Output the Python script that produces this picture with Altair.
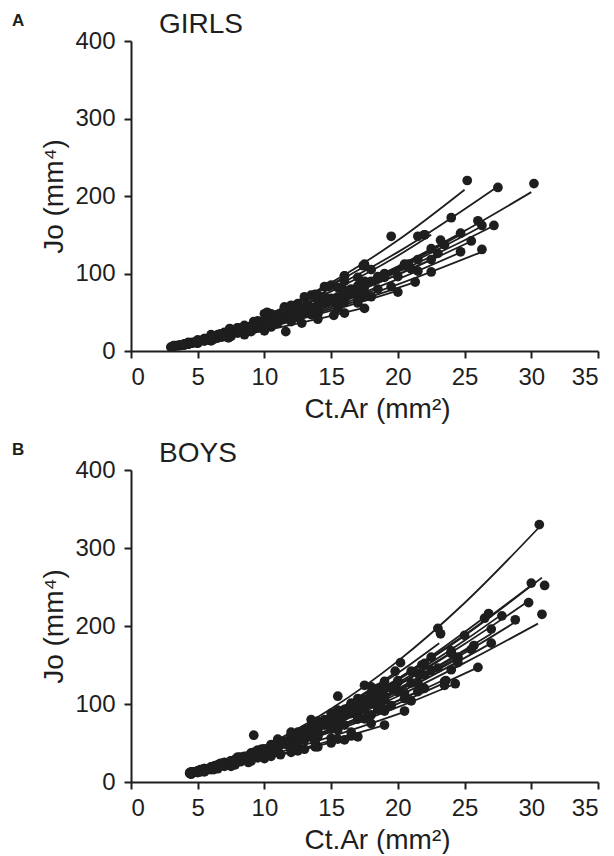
import altair as alt
import pandas as pd

X_TICKS = [0, 5, 10, 15, 20, 25, 30, 35]
Y_TICKS = [0, 100, 200, 300, 400]

# ---------------- GIRLS (panel A) ----------------
GIRL_CURVE_X = [
    [3.0, 8, 14, 20, 25.0],
    [4, 10, 15, 20, 27.3],
    [5, 10, 15, 20, 25, 30],
    [4, 10, 15, 20, 27],
    [4, 10, 15, 20, 26.2],
    [3.5, 10, 15, 20, 25.3],
    [4, 10, 15, 20, 26.3],
    [4, 10, 15, 20, 24.8],
    [3, 10, 15, 20, 24.7],
    [3.5, 10, 15, 20, 22.5],
    [4, 10, 15, 20, 23.5],
    [3, 10, 15, 20, 22.5],
    [4, 10, 15, 21.3],
    [3.5, 10, 15, 20],
    [3, 10, 15, 17.4],
    [4, 10, 14, 17.3],
    [4, 10, 15, 20.8],
    [3.2, 10, 16],
    [4, 10, 15, 18.5],
    [3.5, 10, 15, 19],
    [3, 8, 14.5],
    [4, 8, 12],
]
GIRL_CURVE_Y = [
    [6.0, 30.9, 78.7, 142.8, 208],
    [9.7, 42, 80.7, 127.6, 210],
    [12.8, 37.3, 69.9, 109.4, 155, 205],
    [9.1, 36, 66.2, 102, 160],
    [8.7, 36, 67.3, 105.4, 160],
    [7.2, 34.8, 63.9, 98.4, 140],
    [8.3, 31.5, 56.5, 86, 128],
    [8.3, 32.8, 60.2, 92.7, 128],
    [5.1, 35.3, 67.7, 107, 150],
    [7, 39.3, 76.9, 123, 150],
    [8.2, 35.7, 68.4, 108, 140],
    [5.7, 35, 64.2, 99, 118],
    [8.6, 30.9, 54.4, 89],
    [6.8, 29.5, 52.1, 78],
    [5.9, 43.3, 84.8, 108],
    [7.6, 26.2, 41.3, 55],
    [8.5, 35.4, 66.1, 110],
    [6.7, 43.8, 95],
    [8.7, 32.8, 58.8, 80],
    [7.2, 36.9, 69, 100],
    [5.6, 27.6, 70],
    [9, 25, 45],
]
GIRL_PT_X = [
    [3.2, 5.0, 7.4, 10.0, 13.0, 16.0, 19.5, 25.2],
    [4.2, 6.5, 9.5, 14.0, 18.0, 22.0, 24.0, 27.5],
    [5.2, 7.5, 10.5, 14.5, 17.5, 21.5, 26.0, 30.2],
    [4.0, 6.0, 8.5, 11.5, 15.5, 19.0, 23.0, 27.2],
    [3.8, 5.5, 8.0, 12.0, 16.5, 20.5, 23.5, 26.3],
    [3.5, 5.0, 7.0, 9.5, 13.5, 17.0, 21.0, 25.5],
    [4.5, 6.5, 9.0, 12.5, 16.0, 19.5, 22.5, 26.3],
    [4.3, 6.0, 8.0, 11.0, 14.0, 17.5, 21.5, 24.7],
    [3.0, 4.5, 6.5, 9.0, 12.5, 16.5, 20.5, 24.7],
    [3.5, 5.5, 8.0, 11.0, 14.0, 17.0, 21.5, 22.0],
    [4.0, 6.0, 8.5, 11.5, 15.0, 18.5, 22.5, 23.2],
    [3.2, 5.0, 7.0, 10.0, 13.0, 16.5, 20.0, 22.5],
    [4.5, 6.5, 9.0, 12.0, 15.5, 18.0, 21.3],
    [3.5, 5.0, 7.5, 10.5, 14.0, 17.0, 20.0],
    [3.3, 5.0, 7.0, 10.2, 12.5, 15.0, 17.4],
    [4.0, 6.0, 8.5, 11.6, 14.0, 16.0, 17.5],
    [4.8, 7.0, 9.5, 12.5, 16.0, 18.5, 20.8],
    [3.2, 5.5, 8.0, 10.5, 13.5, 16.0],
    [4.3, 6.8, 9.5, 12.5, 15.5, 18.5],
    [3.7, 6.0, 8.5, 11.5, 14.5, 17.5, 19.0],
    [3.0, 4.8, 7.0, 9.5, 12.0, 14.5],
    [4.0, 5.8, 8.0, 10.0, 12.0],
]
GIRL_PT_Y = [
    [6, 14, 29, 48, 70, 97, 148, 220],
    [10, 21, 39, 72, 105, 150, 172, 211],
    [13, 23, 42, 66, 90, 118, 168, 216],
    [9, 17, 28, 44, 70, 95, 126, 162],
    [8, 14, 26, 48, 80, 110, 137, 162],
    [7, 12, 20, 32, 55, 77, 106, 142],
    [10, 17, 27, 43, 63, 83, 102, 131],
    [9, 15, 23, 38, 54, 76, 103, 128],
    [5, 10, 18, 30, 50, 79, 112, 152],
    [7, 15, 28, 47, 69, 95, 148, 150],
    [8, 16, 28, 45, 68, 96, 132, 143],
    [6, 12, 20, 36, 52, 75, 96, 118],
    [10, 17, 27, 40, 57, 70, 89],
    [7, 11, 19, 31, 47, 62, 76],
    [7, 14, 24, 50, 61, 85, 110],
    [8, 13, 21, 25, 41, 49, 55],
    [11, 20, 33, 50, 74, 93, 112],
    [7, 16, 30, 48, 72, 97],
    [9, 18, 30, 45, 62, 80],
    [8, 16, 29, 46, 65, 88, 100],
    [5, 11, 22, 35, 51, 70],
    [9, 16, 25, 35, 45],
]
# further visits of the same girls (mid-range of the cloud)
GIRL_PT2_X = [
    [6.0, 11.5, 14.5, 17.5],
    [5.5, 8.0, 12.0, 16.0],
    [6.2, 9.0, 12.5, 16.0],
    [5.0, 7.0, 10.0, 13.5, 17.5],
    [4.6, 7.0, 10.0, 14.0, 18.0],
    [4.2, 6.0, 8.5, 11.0, 15.5],
    [5.5, 7.5, 11.0, 14.0, 17.5],
    [5.0, 7.0, 9.5, 12.5, 16.0],
    [3.7, 5.5, 8.0, 11.0, 14.5],
    [4.5, 6.8, 9.5, 12.5, 15.5],
    [5.0, 7.0, 10.0, 13.0, 17.0],
    [4.0, 6.0, 8.5, 11.5, 15.0],
    [5.5, 7.5, 10.5, 13.5, 17.0],
    [4.3, 6.2, 9.0, 12.0, 15.5],
    [4.0, 6.0, 8.5, 11.5, 13.8],
    [5.0, 7.3, 10.0, 12.8, 15.2],
    [5.8, 8.2, 11.0, 14.0, 17.2],
    [4.3, 6.7, 9.2, 12.0, 14.8],
    [5.5, 8.0, 11.0, 14.0, 17.0],
    [4.8, 7.2, 10.0, 13.0, 16.0],
    [3.9, 5.9, 8.2, 10.8, 13.2],
    [4.9, 6.9, 9.0, 11.0],
]
GIRL_PT2_Y = [
    [21, 57, 83, 112],
    [16, 30, 55, 90],
    [18, 32, 52, 78],
    [13, 21, 36, 56, 83],
    [11, 21, 36, 60, 90],
    [9, 16, 27, 40, 68],
    [13, 21, 36, 52, 70],
    [12, 19, 30, 46, 68],
    [7, 14, 25, 41, 63],
    [10, 21, 36, 57, 82],
    [11, 21, 36, 53, 84],
    [8, 16, 27, 43, 64],
    [13, 21, 33, 47, 65],
    [9, 15, 25, 38, 55],
    [9, 19, 33, 55, 73],
    [10, 17, 26, 36, 46],
    [15, 26, 41, 59, 84],
    [11, 22, 38, 59, 83],
    [14, 24, 38, 53, 71],
    [11, 22, 37, 55, 76],
    [8, 16, 28, 43, 60],
    [12, 20, 30, 40],
]

# ---------------- BOYS (panel B) ----------------
BOY_CURVE_X = [
    [5, 10, 15, 20, 25, 30.5],
    [5, 10, 15, 20, 25, 30.8],
    [5, 10, 15, 20, 25, 30.2],
    [5, 10, 15, 20, 25, 29.8],
    [5, 10, 15, 20, 25, 30.5],
    [5, 10, 15, 20, 25, 27.8],
    [4.5, 10, 15, 20, 26.8],
    [5, 10, 15, 20, 25, 28.8],
    [5, 10, 15, 20, 27],
    [5, 10, 15, 20, 27],
    [5, 10, 15, 20, 23.1],
    [5, 10, 15, 20, 25.7],
    [5, 10, 15, 20, 24.5],
    [5, 10, 15, 20, 26],
    [5, 10, 15, 20, 24.3],
    [5, 10, 15, 20, 23.6],
    [5, 10, 15, 20.5],
    [4.5, 10, 15, 19],
    [5, 10, 14, 17],
    [5, 10, 15, 19.8],
    [5, 10, 15, 21.8],
    [4.5, 10, 15, 18.5],
    [4.5, 10, 16],
    [5, 10, 15, 22],
    [4.5, 9, 14],
    [5, 10, 15, 20, 24],
]
BOY_CURVE_Y = [
    [13.7, 46.2, 94, 155, 229.5, 325],
    [14.3, 43.3, 83, 131.3, 187.6, 262],
    [14.4, 43.5, 83.4, 132, 188.5, 255],
    [14.6, 42.7, 79.9, 125, 177, 232],
    [14.7, 40.3, 72.4, 110, 152.7, 203],
    [13.8, 41.9, 80.3, 127, 181.4, 215],
    [11.3, 42.3, 82.7, 132.3, 215],
    [13.6, 39.8, 74.5, 116.7, 165.3, 205],
    [13.9, 40.8, 76.2, 119.4, 190],
    [14.2, 40.1, 73.7, 113.5, 178],
    [14.3, 44.7, 87.4, 139.8, 178],
    [13.9, 40.5, 75.8, 118.8, 175],
    [14.5, 41.1, 75.5, 116.3, 158],
    [13.4, 36.8, 66, 100.5, 147],
    [13.8, 36.4, 64.2, 95.9, 126],
    [13.9, 38, 68.2, 103.8, 132],
    [12.5, 32.9, 58.2, 90],
    [10.4, 30.7, 53.2, 73],
    [12.2, 30.1, 46.2, 60],
    [13.5, 43.8, 87.4, 140],
    [13.3, 41.5, 81.1, 150],
    [11.7, 43.5, 85, 120],
    [12.7, 42, 85],
    [13, 36.8, 67.6, 120],
    [11.5, 34, 60],
    [13.4, 40.7, 78, 123.5, 165],
]
BOY_PT_X = [
    [4.8, 7.0, 9.2, 12.0, 15.5, 20.2, 30.6],
    [5.0, 7.5, 10.5, 14.0, 17.5, 21.0, 25.0, 30.0],
    [5.5, 8.0, 11.0, 14.5, 18.0, 22.0, 26.5, 31.0],
    [4.6, 6.5, 9.0, 12.5, 16.0, 19.5, 24.0, 29.8],
    [5.2, 7.8, 10.5, 13.5, 17.0, 20.5, 24.0, 30.8],
    [4.5, 6.5, 9.5, 13.0, 16.5, 20.0, 24.0, 27.8],
    [4.5, 6.0, 8.5, 11.5, 15.0, 18.5, 22.5, 26.8],
    [5.5, 8.0, 11.5, 15.0, 18.5, 22.0, 25.5, 28.8],
    [4.8, 7.0, 10.0, 13.5, 17.0, 21.0, 24.5, 27.0],
    [5.0, 7.5, 10.5, 14.0, 17.5, 21.5, 24.5, 27.0],
    [5.0, 7.0, 9.5, 12.5, 15.5, 19.0, 23.0, 23.2],
    [4.4, 6.0, 8.5, 12.0, 15.5, 19.0, 22.5, 25.7],
    [5.3, 7.5, 10.0, 13.0, 16.5, 20.0, 23.0, 24.5],
    [4.7, 7.0, 9.5, 12.5, 16.0, 19.5, 23.5, 26.0],
    [5.0, 7.5, 10.5, 14.0, 17.5, 21.0, 23.5, 24.3],
    [4.5, 6.5, 9.0, 12.0, 15.0, 18.5, 21.5, 23.6],
    [5.0, 7.0, 9.5, 12.5, 15.0, 18.0, 20.5],
    [4.5, 6.5, 9.0, 12.0, 14.0, 16.5, 19.0],
    [5.2, 7.5, 10.0, 12.5, 15.0, 17.0],
    [5.5, 8.0, 10.5, 13.5, 16.5, 19.8],
    [4.6, 6.5, 9.0, 12.0, 15.5, 18.5, 21.8],
    [4.5, 6.5, 8.5, 11.0, 14.0, 16.5, 18.5],
    [4.5, 6.0, 8.0, 10.0, 12.5, 14.5, 16.0],
    [5.0, 7.5, 10.0, 13.5, 17.0, 20.5, 22.0],
    [4.4, 6.0, 8.0, 10.0, 12.0, 14.0],
    [5.5, 8.0, 11.0, 14.5, 18.0, 21.5, 24.0],
]
BOY_PT_Y = [
    [13, 25, 60, 64, 110, 153, 330],
    [14, 27, 47, 74, 105, 142, 188, 255],
    [17, 30, 51, 80, 111, 152, 210, 252],
    [13, 22, 37, 59, 88, 120, 166, 230],
    [15, 28, 43, 61, 87, 114, 144, 215],
    [12, 21, 39, 64, 92, 128, 168, 213],
    [11, 18, 32, 52, 82, 116, 160, 216],
    [16, 28, 49, 74, 104, 137, 170, 208],
    [13, 23, 41, 65, 92, 127, 160, 196],
    [14, 26, 44, 66, 93, 127, 153, 178],
    [14, 25, 41, 64, 92, 129, 197, 190],
    [12, 18, 32, 54, 80, 110, 143, 175],
    [16, 27, 41, 62, 88, 116, 146, 158],
    [12, 22, 34, 51, 73, 98, 129, 147],
    [14, 24, 39, 58, 81, 104, 124, 126],
    [12, 20, 32, 49, 68, 93, 116, 130],
    [12, 20, 31, 46, 56, 75, 91],
    [10, 17, 27, 38, 45, 59, 73],
    [13, 20, 30, 40, 50, 58],
    [16, 30, 48, 72, 101, 142],
    [12, 20, 35, 56, 86, 115, 150],
    [12, 21, 33, 53, 76, 99, 120],
    [13, 19, 30, 42, 58, 74, 85],
    [13, 24, 37, 58, 81, 107, 120],
    [11, 18, 28, 38, 49, 60],
    [15, 28, 49, 73, 105, 139, 165],
]
# further visits of the same boys (mid-range of the cloud)
BOY_PT2_X = [
    [6.0, 8.0, 11.0, 13.5, 17.5],
    [6.2, 9.0, 12.0, 16.0, 19.0],
    [6.7, 9.5, 12.5, 16.0, 20.0],
    [5.5, 7.8, 10.5, 14.0, 17.5],
    [6.5, 9.0, 12.0, 15.5, 18.5],
    [5.5, 8.0, 11.0, 14.5, 18.0],
    [5.2, 7.2, 10.0, 13.0, 16.5],
    [6.5, 9.5, 13.0, 16.5, 20.0],
    [6.0, 8.5, 11.8, 15.0, 19.0],
    [6.2, 9.0, 12.0, 15.5, 19.0],
    [6.0, 8.2, 11.0, 14.0, 17.0],
    [5.2, 7.2, 10.0, 13.8, 17.0],
    [6.3, 8.7, 11.5, 14.8, 18.0],
    [5.8, 8.2, 11.0, 14.0, 18.0],
    [6.2, 9.0, 12.0, 15.5, 19.0],
    [5.5, 7.8, 10.5, 13.5, 17.0],
    [6.0, 8.2, 11.0, 13.8, 16.5],
    [5.5, 7.8, 10.5, 13.0, 15.5],
    [6.2, 8.8, 11.2, 13.8, 16.0],
    [6.8, 9.2, 12.0, 15.0, 18.0],
    [5.5, 7.8, 10.5, 13.5, 17.0],
    [5.5, 7.5, 9.8, 12.5, 15.2],
    [5.2, 7.0, 9.0, 11.2, 13.5],
    [6.2, 8.8, 11.8, 15.0, 18.8],
    [5.2, 7.0, 9.0, 11.0, 13.0],
    [6.8, 9.5, 12.5, 16.0, 19.8],
]
BOY_PT2_Y = [
    [19, 32, 55, 80, 124],
    [20, 37, 58, 92, 120],
    [24, 40, 63, 93, 130],
    [17, 29, 46, 72, 101],
    [21, 35, 51, 75, 98],
    [16, 30, 50, 76, 108],
    [15, 25, 42, 67, 98],
    [21, 37, 60, 88, 117],
    [19, 32, 52, 77, 108],
    [19, 35, 53, 79, 105],
    [19, 32, 51, 78, 107],
    [15, 24, 40, 66, 94],
    [21, 33, 51, 75, 101],
    [16, 28, 42, 61, 86],
    [19, 31, 47, 67, 91],
    [16, 26, 40, 58, 81],
    [16, 26, 38, 51, 64],
    [13, 22, 33, 42, 55],
    [16, 25, 35, 45, 54],
    [23, 38, 60, 88, 122],
    [16, 27, 46, 69, 101],
    [16, 27, 42, 63, 87],
    [16, 25, 36, 50, 66],
    [18, 31, 47, 68, 95],
    [14, 23, 34, 44, 54],
    [22, 38, 59, 89, 122],
]

INK = "#1e1e1e"
FONT = "Liberation Sans"


def frames(cx, cy, pxs, pys):
    crow, prow = [], []
    for i, (xs, ys) in enumerate(zip(cx, cy)):
        for x, y in zip(xs, ys):
            crow.append({"id": i, "x": x, "y": y})
    for px, py in zip(pxs, pys):
        for i, (xs, ys) in enumerate(zip(px, py)):
            for x, y in zip(xs, ys):
                prow.append({"id": i, "x": x, "y": y})
    return pd.DataFrame(crow), pd.DataFrame(prow)


def panel(cx, cy, pxs, pys, letter, name, h):
    dfc, dfp = frames(cx, cy, pxs, pys)
    xenc = alt.X(
        "x:Q",
        scale=alt.Scale(domain=[0, 35], nice=False, zero=False),
        axis=alt.Axis(values=X_TICKS, title="Ct.Ar (mm²)", labelPadding=7,
                      titlePadding=6, titleX=246),
    )
    yenc = alt.Y(
        "y:Q",
        scale=alt.Scale(domain=[0, 400], nice=False),
        axis=alt.Axis(values=Y_TICKS, title="Jo (mm⁴)", labelPadding=9,
                      titlePadding=6),
    )
    lines = alt.Chart(dfc).mark_line(
        color=INK, strokeWidth=1.8, interpolate="monotone"
    ).encode(x=xenc, y=yenc, detail="id:N")
    pts = alt.Chart(dfp).mark_circle(color=INK, size=95, opacity=1).encode(
        x="x:Q", y="y:Q"
    )
    lab = alt.Chart(pd.DataFrame({"t": [letter]})).mark_text(
        font=FONT, fontSize=17, fontWeight="bold", color=INK,
        align="left", baseline="middle"
    ).encode(text="t:N", x=alt.value(-119), y=alt.value(-20))
    ttl = alt.Chart(pd.DataFrame({"t": [name]})).mark_text(
        font=FONT, fontSize=28, color=INK, align="left", baseline="middle"
    ).encode(text="t:N", x=alt.value(28), y=alt.value(-16))
    return alt.layer(lines, pts, lab, ttl).properties(width=467, height=h)


top = panel(GIRL_CURVE_X, GIRL_CURVE_Y, [GIRL_PT_X, GIRL_PT2_X],
            [GIRL_PT_Y, GIRL_PT2_Y], "A", "GIRLS", 310)
bottom = panel(BOY_CURVE_X, BOY_CURVE_Y, [BOY_PT_X, BOY_PT2_X],
               [BOY_PT_Y, BOY_PT2_Y], "B", "BOYS", 312)

chart = alt.vconcat(top, bottom, spacing=17).properties(
    padding={"left": 4, "top": 3, "right": 5, "bottom": 0}
).configure_view(stroke=None).configure_axis(
    grid=False,
    domainColor=INK, domainWidth=2,
    tickColor=INK, tickWidth=2, tickSize=7,
    labelFont=FONT, labelFontSize=24, labelColor=INK,
    titleFont=FONT, titleFontSize=28, titleFontWeight="normal", titleColor=INK,
)

chart.save("out.html", embed_options={"renderer": "svg", "actions": False})
